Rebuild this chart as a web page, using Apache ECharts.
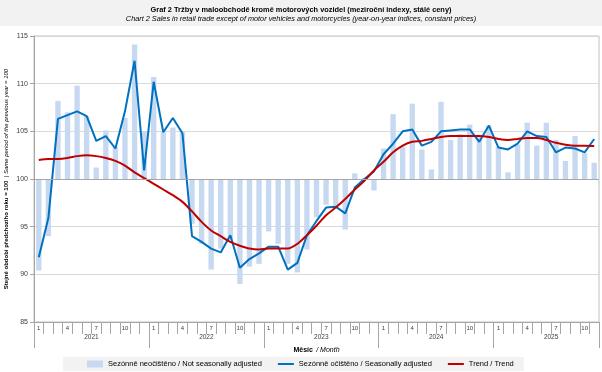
<!DOCTYPE html>
<html><head><meta charset="utf-8">
<script src="https://cdn.jsdelivr.net/npm/echarts@6/dist/echarts.min.js"></script>
<style>html,body{margin:0;padding:0;background:#fff}#c{width:602px;height:372px}</style>
</head><body><div id="c"></div>
<script>
const years = ['2021', '2022', '2023', '2024', '2025'];
const monthTickLabels = ['1', '4', '7', '10'];
const yearLabelPositions = [6, 18, 30, 42, 54];
const yearBoundaries = [0, 12, 24, 36, 48, 59];

const notSeasonallyAdjusted = [
  90.4, 94.0, 108.2, 107.0, 109.8, 106.6, 101.2, 105.1, 103.4, 106.4, 114.1, 105.0,
  110.7, 104.9, 105.4, 104.9, 95.3, 93.2, 90.5, 92.7, 93.6, 89.0, 90.8, 91.1,
  94.5, 93.2, 91.1, 90.2, 92.6, 96.0, 97.3, 97.2, 94.7, 100.6, 100.1, 98.8,
  103.2, 106.8, 103.4, 107.9, 103.1, 101.0, 108.1, 104.1, 104.7, 105.7, 104.6, 105.6,
  103.4, 100.7, 103.6, 105.9, 103.5, 105.9, 104.1, 101.9, 104.5, 102.7, 101.7
];
const seasonallyAdjusted = [
  91.8, 95.9, 106.3, 106.7, 107.1, 106.6, 104.0, 104.5, 103.2, 107.1, 112.4, 100.9,
  110.2, 104.9, 106.4, 104.8, 94.0, 93.4, 92.7, 92.3, 94.1, 90.7, 91.6, 92.2,
  92.9, 92.9, 90.5, 91.2, 94.1, 95.6, 97.0, 97.1, 96.4, 99.1, 100.0, 100.8,
  102.6, 103.7, 105.0, 105.2, 103.5, 103.9, 105.0, 105.1, 105.2, 105.2, 103.9, 105.6,
  103.3, 103.1, 103.7, 105.0, 104.5, 104.4, 102.8, 103.3, 103.2, 102.8, 104.2
];
const trend = [
  102.0, 102.1, 102.1, 102.2, 102.4, 102.5, 102.4, 102.2, 101.9, 101.4, 100.7, 100.1,
  99.5, 98.9, 98.3, 97.6, 96.6, 95.5, 94.6, 94.0, 93.4, 93.0, 92.7, 92.6,
  92.7, 92.7, 92.7, 93.2, 94.1, 95.1, 96.2, 97.0, 97.9, 98.9, 99.8, 100.9,
  101.8, 102.8, 103.5, 103.9, 104.0, 104.2, 104.4, 104.5, 104.5, 104.5, 104.5, 104.4,
  104.2, 104.1, 104.2, 104.3, 104.3, 104.1, 103.8, 103.6, 103.5, 103.5, 103.45
];

const categories = notSeasonallyAdjusted.map((_, i) => years[Math.floor(i / 12)] + '-' + (i % 12 + 1));

const NAME_BAR = 'Sezónně neočištěno / Not seasonally adjusted';
const NAME_SA = 'Sezónně očištěno / Seasonally adjusted';
const NAME_TR = 'Trend / Trend';
const FONT = '"Liberation Sans", Arial, sans-serif';

const chart = echarts.init(document.getElementById('c'), null, {renderer: 'canvas'});
chart.setOption({
  animation: false,
  textStyle: {fontFamily: FONT},
  graphic: [{type: 'rect', left: 0, top: 0, z: -10, shape: {width: 602, height: 26}, style: {fill: '#f2f2f2'}}],
  title: {
    left: 'center', top: 1, itemGap: 2,
    text: 'Graf 2 Tržby v maloobchodě kromě motorových vozidel (meziroční indexy, stálé ceny)',
    subtext: 'Chart 2 Sales in retail trade except of motor vehicles and motorcycles (year-on-year indices, constant prices)',
    textStyle: {fontSize: 7.4, fontWeight: 'bold', color: '#000', fontFamily: FONT},
    subtextStyle: {fontSize: 7.3, fontStyle: 'italic', color: '#000', fontFamily: FONT}
  },
  grid: {left: 34, right: 3, top: 36, bottom: 50, show: true, borderColor: '#c0c0c0', borderWidth: 1, outerBoundsMode: 'none', containLabel: false},
  legend: {
    bottom: 1, left: 63, itemGap: 15, itemWidth: 16, itemHeight: 7,
    padding: [3, 10, 3, 24], backgroundColor: '#f2f2f2',
    textStyle: {fontSize: 7.5, color: '#000', fontFamily: FONT},
    data: [
      {name: NAME_BAR, icon: 'rect', itemStyle: {color: '#c6d9f1'}},
      {name: NAME_SA, itemStyle: {opacity: 0}},
      {name: NAME_TR, itemStyle: {opacity: 0}}
    ]
  },
  xAxis: [{
    type: 'category', data: categories, boundaryGap: true,
    axisLine: {lineStyle: {color: '#a6a6a6'}},
    axisTick: {show: true, interval: 0, length: 12, lineStyle: {color: '#a6a6a6'}},
    axisLabel: {
      interval: 0, fontSize: 6, color: '#404040', margin: 3,
      formatter: v => { const m = v.split('-')[1]; return monthTickLabels.includes(m) ? m : ''; }
    },
    splitLine: {show: false}
  }, {
    type: 'value', min: 0, max: 59, position: 'bottom',
    axisLine: {show: false}, splitLine: {show: false},
    axisTick: {show: true, customValues: yearBoundaries, length: 26, lineStyle: {color: '#a6a6a6'}},
    axisLabel: {
      customValues: yearLabelPositions, fontSize: 6.5, color: '#404040', margin: 12,
      formatter: v => years[Math.floor(v / 12)]
    },
    name: '{b|Měsíc} {i|/ Month}', nameLocation: 'middle', nameGap: 22, nameMoveOverlap: false,
    nameTextStyle: {rich: {b: {fontWeight: 'bold', fontSize: 7, color: '#000'}, i: {fontStyle: 'italic', fontSize: 7, color: '#000'}}}
  }],
  yAxis: {
    type: 'value', min: 85, max: 115, interval: 5,
    axisLine: {show: true, lineStyle: {color: '#a6a6a6'}},
    axisTick: {show: true, length: 4, lineStyle: {color: '#a6a6a6'}},
    axisLabel: {fontSize: 7, color: '#404040', margin: 6},
    splitLine: {lineStyle: {color: '#d9d9d9'}},
    name: '{b|Stejné období předchozího roku = 100} {i|| Same period of the previous year = 100}',
    nameLocation: 'middle', nameGap: 22, nameRotate: 90, nameMoveOverlap: false,
    nameTextStyle: {rich: {b: {fontWeight: 'bold', fontSize: 6, color: '#000'}, i: {fontStyle: 'italic', fontSize: 6, color: '#000'}}}
  },
  series: [{
    type: 'custom', name: NAME_BAR, z: 1,
    itemStyle: {color: '#c6d9f1'},
    data: notSeasonallyAdjusted.map((v, i) => [i, v]),
    encode: {x: 0, y: 1},
    renderItem: (params, api) => {
      const i = api.value(0), v = api.value(1);
      const p1 = api.coord([i, v]);
      const p0 = api.coord([i, 100]);
      const w = api.size([1, 0])[0] * 0.56;
      return {type: 'rect', shape: {x: p1[0] - w / 2, y: Math.min(p0[1], p1[1]), width: w, height: Math.abs(p0[1] - p1[1])}, style: {fill: '#c6d9f1'}};
    },
    markLine: {silent: true, symbol: 'none', label: {show: false}, lineStyle: {color: '#a6a6a6', type: 'solid', width: 1}, data: [{yAxis: 100}]}
  }, {
    type: 'line', name: NAME_SA, data: seasonallyAdjusted, symbol: 'none', z: 3,
    lineStyle: {color: '#0070c0', width: 2}, itemStyle: {color: '#0070c0'}
  }, {
    type: 'line', name: NAME_TR, data: trend, symbol: 'none', smooth: 0.3, z: 4,
    lineStyle: {color: '#c00000', width: 2}, itemStyle: {color: '#c00000'}
  }]
});
</script></body></html>
